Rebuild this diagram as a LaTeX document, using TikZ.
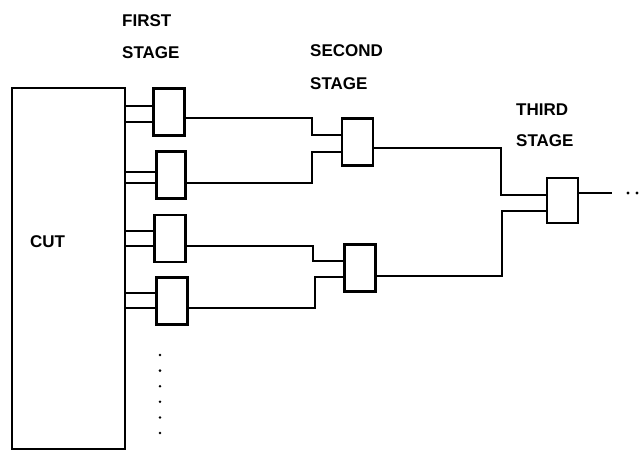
\documentclass[tikz,border=0pt]{standalone}
\usepackage{fontspec}
\setmainfont{Liberation Sans}
\begin{document}
\begin{tikzpicture}[x=1pt,y=-1pt,
  wire/.style={line width=2.6pt,line join=miter},
  gate/.style={draw,line width=2.6pt,rectangle,minimum width=31pt,minimum height=47pt,inner sep=0pt},
  lbl/.style={anchor=west,inner sep=0pt,font=\fontsize{17}{19}\selectfont\bfseries},
  dotm/.style={circle,fill,inner sep=0pt,minimum size=3.2pt}]
\useasboundingbox (0,0) rectangle (643,451);
% CUT block
\node[draw,line width=2.6pt,rectangle,minimum width=113pt,minimum height=361pt,inner sep=0pt] (cut) at (68.5,268.5) {};
\node[lbl] (cutl) at (30,242) {CUT};
% labels
\node[lbl] (l1a) at (122,21) {FIRST};
\node[lbl] (l1b) at (122,53) {STAGE};
\node[lbl] (l2a) at (310,51) {SECOND};
\node[lbl] (l2b) at (310,84) {STAGE};
\node[lbl] (l3a) at (516,110) {THIRD};
\node[lbl] (l3b) at (516,141) {STAGE};
% gates
\node[gate] (f1) at (169,112) {};
\node[gate,minimum width=29pt] (f2) at (171,175) {};
\node[gate] (f3) at (170,238.5) {};
\node[gate] (f4) at (172,301) {};
\node[gate] (s1) at (357.5,142) {};
\node[gate] (s2) at (360,268) {};
\node[gate,minimum height=45pt] (t) at (562.5,200.5) {};
% first stage inputs
\foreach \g/\ya/\yb in {f1/106/122, f2/172/183, f3/231/246, f4/293/308}{
  \draw[wire] (cut.east |- 0,\ya) -- (\g.west |- 0,\ya);
  \draw[wire] (cut.east |- 0,\yb) -- (\g.west |- 0,\yb);
}
% first to second stage
\coordinate (j1) at (312,118);
\coordinate (j2) at (312,183);
\coordinate (j3) at (313,246);
\coordinate (j4) at (315,308);
\draw[wire] (f1.east |- j1) -- (j1) -- (j1 |- 0,135) -- (s1.west |- 0,135);
\draw[wire] (f2.east |- j2) -- (j2) -- (j2 |- 0,152) -- (s1.west |- 0,152);
\draw[wire] (f3.east |- j3) -- (j3) -- (j3 |- 0,261) -- (s2.west |- 0,261);
\draw[wire] (f4.east |- j4) -- (j4) -- (j4 |- 0,277) -- (s2.west |- 0,277);
% second to third stage
\coordinate (k1) at (501,148);
\coordinate (k2) at (502,276);
\draw[wire] (s1.east |- k1) -- (k1) -- (k1 |- 0,195) -- (t.west |- 0,195);
\draw[wire] (s2.east |- k2) -- (k2) -- (k2 |- 0,211) -- (t.west |- 0,211);
% output
\coordinate (o) at (612,193);
\draw[wire] (t.east |- o) -- (o);
\node[dotm] (d1) at (628,193) {};
\node[dotm] (d2) at (637,193) {};
% vertical dots
\foreach \i in {0,...,5}{
  \node[dotm,minimum size=2.8pt] (v\i) at (160,355+15.6*\i) {};
}
\end{tikzpicture}
\end{document}
